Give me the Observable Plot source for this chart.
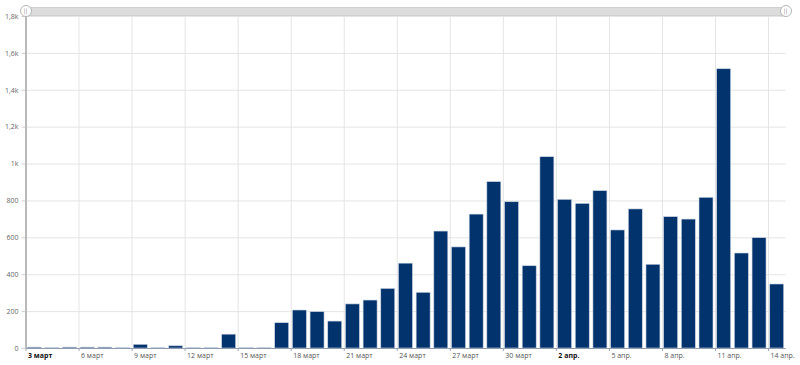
<!DOCTYPE html>
<html>
<head>
<meta charset="utf-8">
<script src="https://cdn.jsdelivr.net/npm/d3@7"></script>
<script src="https://cdn.jsdelivr.net/npm/@observablehq/plot@0.6"></script>
<style>
  html, body { margin: 0; padding: 0; background: #fff; }
  #wrap { position: relative; width: 800px; height: 365px; }
  #scroll { position: absolute; left: 25.5px; top: 6.5px; width: 760px; height: 9px;
            background: #dcdcdc; border-top: 1px solid #cfcfcf; border-bottom: 1px solid #cfcfcf; box-sizing: border-box; }
  .handle { position: absolute; top: 5px; width: 12px; height: 12px; border-radius: 50%;
            background: #fff; border: 1px solid #b5b5b5; box-sizing: border-box;
            font: 6px "DejaVu Sans", sans-serif; color: #999; text-align: center; line-height: 10px; }
</style>
</head>
<body>
<div id="wrap">
</div>
<script>
const dates = [
  "2020-03-03","2020-03-04","2020-03-05","2020-03-06","2020-03-07","2020-03-08","2020-03-09",
  "2020-03-10","2020-03-11","2020-03-12","2020-03-13","2020-03-14","2020-03-15","2020-03-16",
  "2020-03-17","2020-03-18","2020-03-19","2020-03-20","2020-03-21","2020-03-22","2020-03-23",
  "2020-03-24","2020-03-25","2020-03-26","2020-03-27","2020-03-28","2020-03-29","2020-03-30",
  "2020-03-31","2020-04-01","2020-04-02","2020-04-03","2020-04-04","2020-04-05","2020-04-06",
  "2020-04-07","2020-04-08","2020-04-09","2020-04-10","2020-04-11","2020-04-12","2020-04-13",
  "2020-04-14"
];
const values = [
  5, 2, 5, 5, 5, 2, 20,
  2, 12, 2, 2, 75, 2, 2,
  137, 206, 197, 146, 239, 260, 323,
  460, 302, 634, 548, 726, 902, 793,
  446, 1037, 806, 784, 853, 640, 754,
  454, 712, 699, 817, 1514, 515, 598,
  347
];
const xTickDates = ["2020-03-03","2020-03-06","2020-03-09","2020-03-12","2020-03-15","2020-03-18",
  "2020-03-21","2020-03-24","2020-03-27","2020-03-30","2020-04-02","2020-04-05","2020-04-08",
  "2020-04-11","2020-04-14"];
const xTickLabels = ["3 март","6 март","9 март","12 март","15 март","18 март","21 март","24 март",
  "27 март","30 март","2 апр.","5 апр.","8 апр.","11 апр.","14 апр."];
const xTickBold = [true,false,false,false,false,false,false,false,false,false,true,false,false,false,false];
const yTicks = [0, 200, 400, 600, 800, 1000, 1200, 1400, 1600, 1800];
const yTickLabels = ["0","200","400","600","800","1k","1,2k","1,4k","1,6k","1,8k"];
const xDomain = ["2020-03-03", "2020-04-15"];

const DAY = 24 * 3600 * 1000;
const data = dates.map((d, i) => {
  const s = new Date(d);
  return {start: s, end: new Date(+s + DAY), value: values[i]};
});
const xticks = xTickDates.map((d, i) => ({date: new Date(d), label: xTickLabels[i], bold: xTickBold[i]}));

const chart = Plot.plot({
  width: 800,
  height: 365,
  marginLeft: 25.5,
  marginRight: 14.3,
  marginTop: 16,
  marginBottom: 17,
  x: {type: "utc", domain: xDomain.map(d => new Date(d))},
  y: {domain: [0, 1800]},
  style: {fontFamily: "'Open Sans', sans-serif", fontSize: "7px", background: "#fff"},
  marks: [
    Plot.gridY(yTicks, {stroke: "#e4e4e4", strokeOpacity: 1}),
    Plot.gridX(xticks.map(d => d.date), {stroke: "#e4e4e4", strokeOpacity: 1}),
    Plot.rectY(data, {x1: "start", x2: "end", y: "value", fill: "#02336d",
      stroke: "#c9d3e2", strokeWidth: 0.6, insetLeft: 1.7, insetRight: 2}),
    Plot.ruleY([0], {stroke: "#8e9bb0", strokeWidth: 1}),
    Plot.axisX(xticks.map(d => d.date), {tickSize: 3, tickFormat: () => "", stroke: "#9aa5b5", label: null}),
    Plot.text(xticks, {filter: d => !d.bold, x: "date", text: "label", frameAnchor: "bottom",
      dy: 9.5, dx: 2, textAnchor: "start", fill: "#555"}),
    Plot.text(xticks, {filter: d => d.bold, x: "date", text: "label", frameAnchor: "bottom",
      dy: 9.5, dx: 2, textAnchor: "start", fill: "#111", fontWeight: "bold"}),
    Plot.axisY(yTicks, {tickSize: 4, tickPadding: 3.5, stroke: "#cfcfcf", color: "#666",
      tickFormat: d => yTickLabels[yTicks.indexOf(d)], label: null}),
    Plot.ruleX([new Date(xDomain[0])], {stroke: "#b9b9b9", strokeWidth: 2})
  ]
});

const wrap = document.getElementById("wrap");
wrap.appendChild(chart);
const sc = document.createElement("div");
sc.id = "scroll";
wrap.appendChild(sc);
[25.5, 785.5].forEach(cx => {
  const h = document.createElement("div");
  h.className = "handle";
  h.style.left = (cx - 6) + "px";
  h.textContent = "||";
  wrap.appendChild(h);
});
</script>
</body>
</html>
